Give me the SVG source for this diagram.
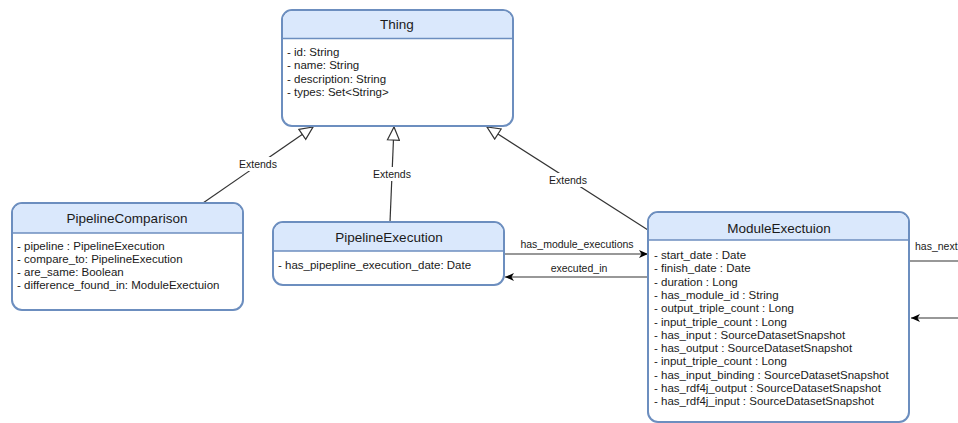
<svg xmlns="http://www.w3.org/2000/svg" width="958" height="423" viewBox="0 0 958 423">
<style>
.box{fill:#ffffff;stroke:#6c8ebf;stroke-width:2}
.hdr{fill:#dae8fc}
.sep{stroke:#6c8ebf;stroke-width:1.5}
.title{font-family:"Liberation Sans",Arial,sans-serif;font-size:13.5px;fill:#1a1a1a;text-anchor:middle}
.attr{font-family:"Liberation Sans",Arial,sans-serif;font-size:11.5px;fill:#1a1a1a}
.lbl{font-family:"Liberation Sans",Arial,sans-serif;font-size:10.5px;fill:#1a1a1a;text-anchor:middle}
.edge{stroke:#333333;stroke-width:1.2;fill:none}
.lblbg{fill:#ffffff}
</style>
<defs>
<marker id="ext" markerUnits="userSpaceOnUse" markerWidth="16" markerHeight="14" refX="14" refY="7" orient="auto" viewBox="0 0 16 14">
<path d="M1,1 L14,7 L1,13 Z" fill="#ffffff" stroke="#333333" stroke-width="1.2"/>
</marker>
<marker id="arr" markerUnits="userSpaceOnUse" markerWidth="10" markerHeight="8" refX="9" refY="4" orient="auto" viewBox="0 0 10 8">
<path d="M0,0 L9,4 L0,8 L2.5,4 Z" fill="#000000"/>
</marker>
</defs>

<g id="connectors">
<line class="edge" x1="203" y1="203" x2="313" y2="127" marker-end="url(#ext)"/>
<rect class="lblbg" x="238" y="157" width="40" height="14"/>
<text class="lbl" x="258" y="168">Extends</text>

<line class="edge" x1="390" y1="222" x2="394" y2="127" marker-end="url(#ext)"/>
<rect class="lblbg" x="372" y="167" width="40" height="14"/>
<text class="lbl" x="392" y="178">Extends</text>

<line class="edge" x1="648" y1="230" x2="487" y2="127" marker-end="url(#ext)"/>
<rect class="lblbg" x="548" y="173" width="40" height="14"/>
<text class="lbl" x="568" y="184">Extends</text>

<line class="edge" x1="504" y1="254" x2="648" y2="254" marker-end="url(#arr)"/>
<text class="lbl" x="577" y="248">has_module_executions</text>

<line class="edge" x1="648" y1="277" x2="505" y2="277" marker-end="url(#arr)"/>
<text class="lbl" x="579" y="272">executed_in</text>

<line class="edge" x1="910" y1="261" x2="958" y2="261"/>
<text class="lbl" x="915" y="250" style="text-anchor:start">has_next</text>

<line class="edge" x1="958" y1="318" x2="911" y2="318" marker-end="url(#arr)"/>
</g>

<g id="thing">
<rect class="box" x="282" y="10" width="231" height="116" rx="10"/>
<path class="hdr" d="M292,11 H503 A9,9 0 0 1 512,20 V38 H283 V20 A9,9 0 0 1 292,11 Z"/>
<line class="sep" x1="283" y1="38.5" x2="512" y2="38.5"/>
<text class="title" x="397" y="29">Thing</text>
<text class="attr" x="287" y="56">- id: String</text>
<text class="attr" x="287" y="69.3">- name: String</text>
<text class="attr" x="287" y="82.6">- description: String</text>
<text class="attr" x="287" y="95.9">- types: Set&lt;String&gt;</text>
</g>

<g id="pipelineComparison">
<rect class="box" x="12" y="203" width="231" height="107" rx="10"/>
<path class="hdr" d="M22,204 H233 A9,9 0 0 1 242,213 V233 H13 V213 A9,9 0 0 1 22,204 Z"/>
<line class="sep" x1="13" y1="233" x2="242" y2="233"/>
<text class="title" x="127" y="223">PipelineComparison</text>
<text class="attr" x="17" y="249.5">- pipeline : PipelineExecution</text>
<text class="attr" x="17" y="262.8">- compare_to: PipelineExecution</text>
<text class="attr" x="17" y="276.1">- are_same: Boolean</text>
<text class="attr" x="17" y="289.4">- difference_found_in: ModuleExectuion</text>
</g>

<g id="pipelineExecution">
<rect class="box" x="273" y="222" width="231" height="63" rx="10"/>
<path class="hdr" d="M283,223 H494 A9,9 0 0 1 503,232 V251 H274 V232 A9,9 0 0 1 283,223 Z"/>
<line class="sep" x1="274" y1="251" x2="503" y2="251"/>
<text class="title" x="389" y="242">PipelineExecution</text>
<text class="attr" x="278" y="269">- has_pipepline_execution_date: Date</text>
</g>

<g id="moduleExecution">
<rect class="box" x="648" y="212" width="261" height="210" rx="10"/>
<path class="hdr" d="M658,213 H899 A9,9 0 0 1 908,222 V240 H649 V222 A9,9 0 0 1 658,213 Z"/>
<line class="sep" x1="649" y1="240" x2="908" y2="240"/>
<text class="title" x="779" y="233">ModuleExectuion</text>
<text class="attr" x="654" y="259">- start_date : Date</text>
<text class="attr" x="654" y="272.3">- finish_date : Date</text>
<text class="attr" x="654" y="285.6">- duration : Long</text>
<text class="attr" x="654" y="298.9">- has_module_id : String</text>
<text class="attr" x="654" y="312.2">- output_triple_count : Long</text>
<text class="attr" x="654" y="325.5">- input_triple_count : Long</text>
<text class="attr" x="654" y="338.8">- has_input : SourceDatasetSnapshot</text>
<text class="attr" x="654" y="352.1">- has_output : SourceDatasetSnapshot</text>
<text class="attr" x="654" y="365.4">- input_triple_count : Long</text>
<text class="attr" x="654" y="378.7">- has_input_binding : SourceDatasetSnapshot</text>
<text class="attr" x="654" y="392">- has_rdf4j_output : SourceDatasetSnapshot</text>
<text class="attr" x="654" y="405.3">- has_rdf4j_input : SourceDatasetSnapshot</text>
</g>
</svg>
